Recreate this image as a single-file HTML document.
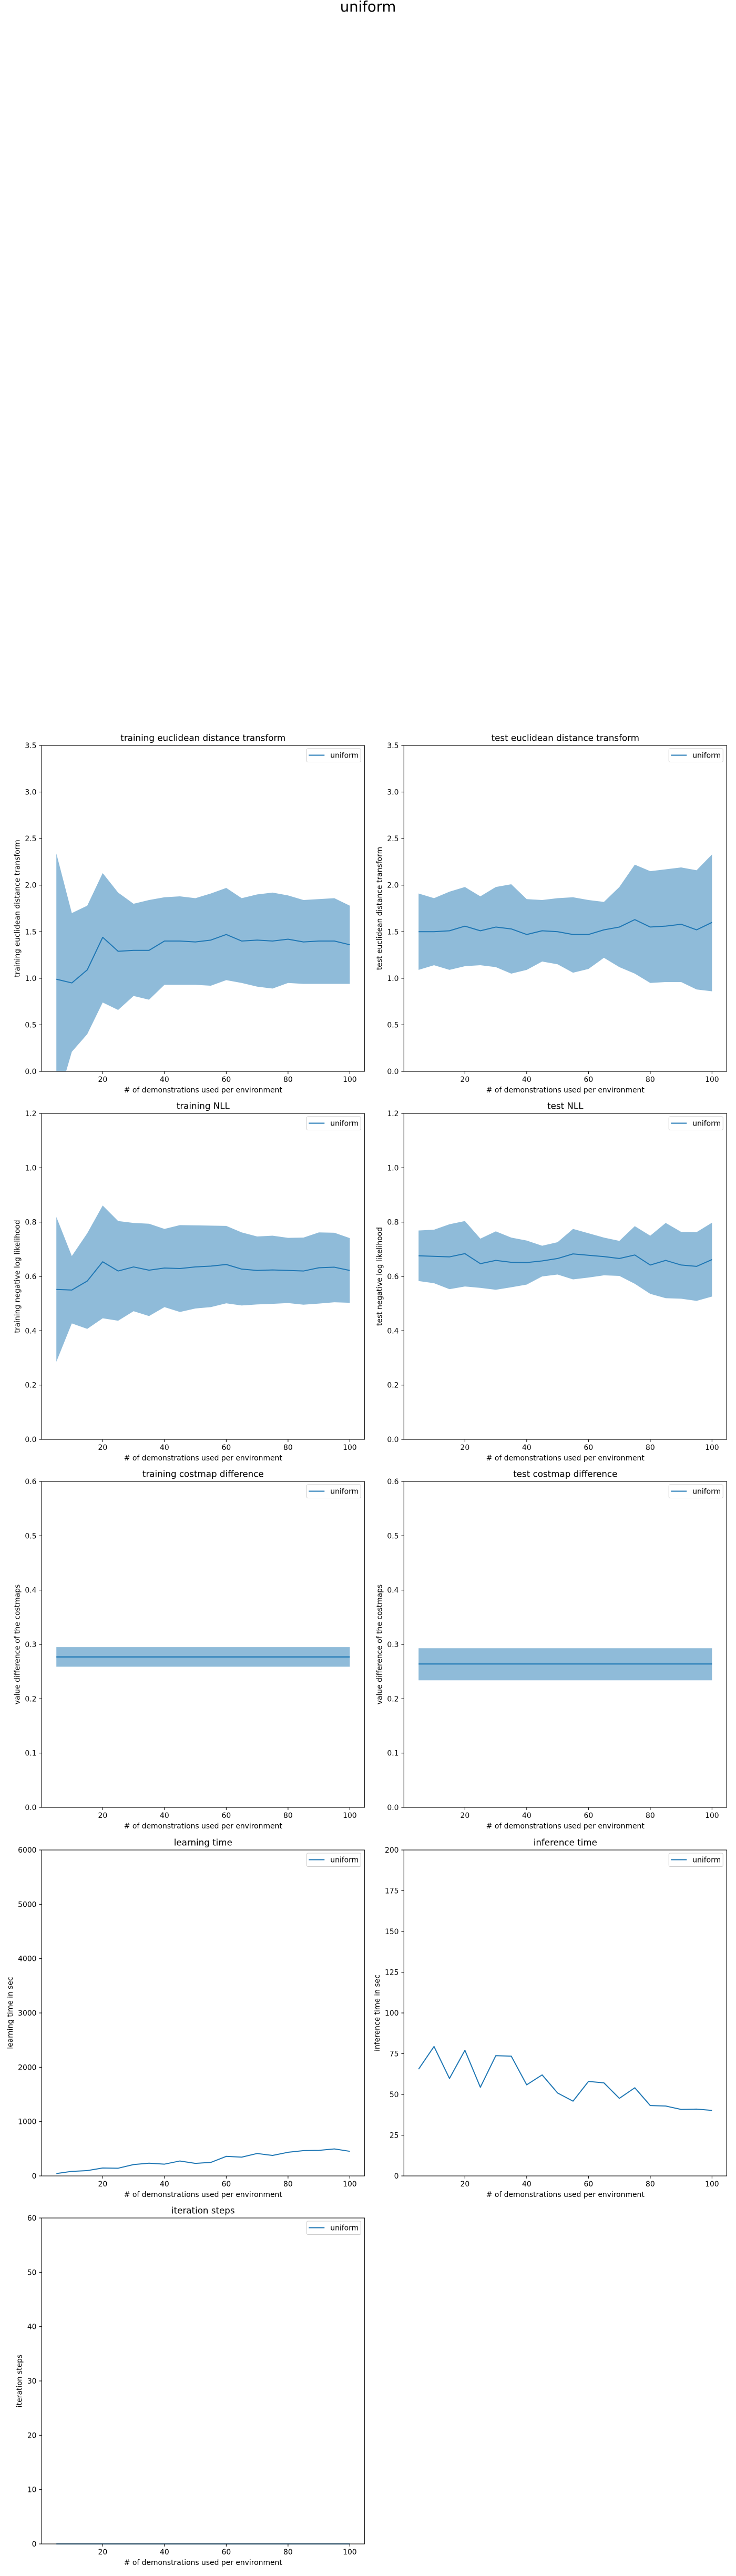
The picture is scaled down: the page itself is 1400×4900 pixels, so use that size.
<!DOCTYPE html>
<html><head><meta charset="utf-8"><title>uniform</title>
<style>
html,body{margin:0;padding:0;background:#fff;}
svg{display:block;font-family:"DejaVu Sans","Liberation Sans",sans-serif;}
</style></head>
<body>
<svg id="fig" xmlns="http://www.w3.org/2000/svg" width="1400" height="4900" viewBox="0 0 1400 4900">
<rect x="0" y="0" width="1400" height="4900" fill="#fff"/>
<text x="700" y="22" text-anchor="middle" font-size="27.5" fill="#000">uniform</text>
</svg>
<script>
const xs = [5,10,15,20,25,30,35,40,45,50,55,60,65,70,75,80,85,90,95,100];
const xTicks = [20,40,60,80,100];

const trainEdtMean = [0.99,0.95,1.09,1.44,1.29,1.30,1.30,1.40,1.40,1.39,1.41,1.47,1.40,1.41,1.40,1.42,1.39,1.40,1.40,1.36];
const trainEdtUpper = [2.34,1.70,1.78,2.13,1.92,1.80,1.84,1.87,1.88,1.86,1.91,1.97,1.86,1.90,1.92,1.89,1.84,1.85,1.86,1.78];
const trainEdtLower = [-0.36,0.21,0.40,0.74,0.66,0.81,0.77,0.93,0.93,0.93,0.92,0.98,0.95,0.91,0.89,0.95,0.94,0.94,0.94,0.94];

const testEdtMean = [1.50,1.50,1.51,1.56,1.51,1.55,1.53,1.47,1.51,1.50,1.47,1.47,1.52,1.55,1.63,1.55,1.56,1.58,1.52,1.60];
const testEdtUpper = [1.91,1.86,1.93,1.98,1.88,1.98,2.01,1.85,1.84,1.86,1.87,1.84,1.82,1.98,2.22,2.15,2.17,2.19,2.16,2.33];
const testEdtLower = [1.09,1.14,1.09,1.13,1.14,1.12,1.05,1.09,1.18,1.15,1.06,1.10,1.22,1.12,1.05,0.95,0.96,0.96,0.88,0.86];

const trainNllMean = [0.552,0.55,0.583,0.654,0.62,0.635,0.623,0.631,0.629,0.635,0.638,0.644,0.627,0.622,0.624,0.622,0.62,0.632,0.634,0.622];
const trainNllUpper = [0.819,0.675,0.759,0.861,0.804,0.797,0.794,0.775,0.789,0.788,0.787,0.786,0.762,0.747,0.75,0.742,0.743,0.762,0.761,0.741];
const trainNllLower = [0.286,0.427,0.407,0.446,0.437,0.472,0.454,0.487,0.469,0.482,0.487,0.501,0.493,0.497,0.499,0.502,0.496,0.5,0.505,0.503];

const testNllMean = [0.676,0.674,0.672,0.684,0.647,0.659,0.652,0.651,0.657,0.666,0.683,0.678,0.673,0.666,0.679,0.642,0.659,0.642,0.637,0.662];
const testNllUpper = [0.769,0.772,0.792,0.804,0.739,0.766,0.743,0.732,0.713,0.726,0.775,0.759,0.743,0.731,0.785,0.75,0.797,0.764,0.763,0.798];
const testNllLower = [0.583,0.575,0.553,0.563,0.558,0.551,0.56,0.57,0.6,0.607,0.589,0.596,0.604,0.602,0.573,0.536,0.52,0.518,0.51,0.526];

const trainCostMean = [0.277,0.277,0.277,0.277,0.277,0.277,0.277,0.277,0.277,0.277,0.277,0.277,0.277,0.277,0.277,0.277,0.277,0.277,0.277,0.277];
const trainCostUpper = [0.295,0.295,0.295,0.295,0.295,0.295,0.295,0.295,0.295,0.295,0.295,0.295,0.295,0.295,0.295,0.295,0.295,0.295,0.295,0.295];
const trainCostLower = [0.259,0.259,0.259,0.259,0.259,0.259,0.259,0.259,0.259,0.259,0.259,0.259,0.259,0.259,0.259,0.259,0.259,0.259,0.259,0.259];

const testCostMean = [0.264,0.264,0.264,0.264,0.264,0.264,0.264,0.264,0.264,0.264,0.264,0.264,0.264,0.264,0.264,0.264,0.264,0.264,0.264,0.264];
const testCostUpper = [0.293,0.293,0.293,0.293,0.293,0.293,0.293,0.293,0.293,0.293,0.293,0.293,0.293,0.293,0.293,0.293,0.293,0.293,0.293,0.293];
const testCostLower = [0.234,0.234,0.234,0.234,0.234,0.234,0.234,0.234,0.234,0.234,0.234,0.234,0.234,0.234,0.234,0.234,0.234,0.234,0.234,0.234];

const learningTime = [44,84,98,146,142,209,235,217,275,231,249,360,346,413,377,435,466,470,497,453];
const inferenceTime = [65.5,79.4,59.8,77.1,54.4,73.8,73.5,55.9,62,50.9,45.9,58,57.1,47.6,54.1,43.2,42.9,40.8,41,40.2];
const iterationSteps = [0,0,0,0,0,0,0,0,0,0,0,0,0,0,0,0,0,0,0,0];

const edtTicks = [0,0.5,1.0,1.5,2.0,2.5,3.0,3.5];
const nllTicks = [0,0.2,0.4,0.6,0.8,1.0,1.2];
const costTicks = [0,0.1,0.2,0.3,0.4,0.5,0.6];
const learnTicks = [0,1000,2000,3000,4000,5000,6000];
const inferTicks = [0,25,50,75,100,125,150,175,200];
const iterTicks = [0,10,20,30,40,50,60];

const NS = "http://www.w3.org/2000/svg";
const svg = document.getElementById('fig');
const AW = 614, AH = 620;
const XMIN = 0.25, XMAX = 104.75;

function mk(tag, attrs, parent) {
  const e = document.createElementNS(NS, tag);
  for (const k in attrs) e.setAttribute(k, attrs[k]);
  (parent || svg).appendChild(e);
  return e;
}
function fmt(v, dec) { return dec > 0 ? v.toFixed(dec) : String(Math.round(v)); }
function textWidth(s) {
  let w = 0;
  for (const c of s) w += (c === '.') ? 4.42 : 8.84;
  return w;
}

let clipId = 0;
function drawChart(o) {
  const L = o.left, T = o.top, B = T + AH, R = L + AW;
  const sx = v => L + (v - XMIN) / (XMAX - XMIN) * AW;
  const sy = v => B - (v - o.ymin) / (o.ymax - o.ymin) * AH;
  const g = mk('g', {});
  
  
  const cid = 'clip' + (clipId++);
  const cp = mk('clipPath', {id: cid}, g);
  mk('rect', {x: L, y: T, width: AW, height: AH}, cp);

  if (o.upper) {
    let d = '';
    xs.forEach((x, i) => { d += (i ? 'L' : 'M') + sx(x).toFixed(2) + ',' + sy(o.upper[i]).toFixed(2); });
    for (let i = xs.length - 1; i >= 0; i--) d += 'L' + sx(xs[i]).toFixed(2) + ',' + sy(o.lower[i]).toFixed(2);
    d += 'Z';
    const band = mk('path', {d: d, fill: '#1f77b4', 'fill-opacity': '0.5', stroke: 'none', 'clip-path': 'url(#' + cid + ')'}, g);
    
    
  }
  let ld = '';
  xs.forEach((x, i) => { ld += (i ? 'L' : 'M') + sx(x).toFixed(2) + ',' + sy(o.mean[i]).toFixed(2); });
  const line = mk('path', {d: ld, fill: 'none', stroke: '#1f77b4', 'stroke-width': o.lw || 2, 'stroke-linejoin': 'round'}, g);
  
  

  const frame = mk('rect', {x: L, y: T, width: AW, height: AH, fill: 'none', stroke: '#000', 'stroke-width': 1.1}, g);
  
  

  xTicks.forEach(v => {
    const x = sx(v);
    mk('line', {x1: x, x2: x, y1: B, y2: B + 4.9, stroke: '#000', 'stroke-width': 1.1}, g);
    const t = mk('text', {x: x, y: B + 20, 'text-anchor': 'middle', 'font-size': 13.9, fill: '#000'}, g);
    t.textContent = String(v);
    
    
  });
  let maxW = 0;
  o.ticks.forEach(v => {
    const y = sy(v);
    mk('line', {x1: L - 4.9, x2: L, y1: y, y2: y, stroke: '#000', 'stroke-width': 1.1}, g);
    const s = fmt(v, o.dec);
    maxW = Math.max(maxW, textWidth(s));
    const t = mk('text', {x: L - 9.8, y: y + 5, 'text-anchor': 'end', 'font-size': 13.9, fill: '#000'}, g);
    t.textContent = s;
    
    
  });
  const xl = mk('text', {x: L + AW / 2, y: B + 40, 'text-anchor': 'middle', 'font-size': 13.9, fill: '#000'}, g);
  xl.textContent = '# of demonstrations used per environment';
  
  
  const ylx = L - (9.8 + maxW + 5.6 + 8.5);
  const yl = mk('text', {x: ylx, y: T + AH / 2, 'text-anchor': 'middle', 'font-size': 13.9, fill: '#000', transform: 'rotate(-90 ' + ylx + ' ' + (T + AH / 2) + ')', 'dominant-baseline': 'central'}, g);
  yl.textContent = o.ylabel;
  
  
  const tt = mk('text', {x: L + AW / 2, y: T - 8.5, 'text-anchor': 'middle', 'font-size': 16.7, fill: '#000'}, g);
  tt.textContent = o.title;
  
  

  const lg = mk('g', {}, g);
  
  
  mk('rect', {x: R - 110, y: T + 6, width: 103, height: 25.5, rx: 2.5, fill: '#fff', 'fill-opacity': 0.8, stroke: '#ccc', 'stroke-width': 1}, lg);
  mk('line', {x1: R - 106, x2: R - 76, y1: T + 18.5, y2: T + 18.5, stroke: '#1f77b4', 'stroke-width': 2}, lg);
  const lt = mk('text', {x: R - 65, y: T + 23.5, 'font-size': 13.9, fill: '#000'}, lg);
  lt.textContent = 'uniform';
  
  
}

const LX = 79.3, RX = 768.3;
drawChart({name: 'training-edt-chart', left: LX, top: 1418, ymin: 0, ymax: 3.5, ticks: edtTicks, dec: 1, mean: trainEdtMean, upper: trainEdtUpper, lower: trainEdtLower, title: 'training euclidean distance transform', ylabel: 'training euclidean distance transform'});
drawChart({name: 'test-edt-chart', left: RX, top: 1418, ymin: 0, ymax: 3.5, ticks: edtTicks, dec: 1, mean: testEdtMean, upper: testEdtUpper, lower: testEdtLower, title: 'test euclidean distance transform', ylabel: 'test euclidean distance transform'});
drawChart({name: 'training-nll-chart', left: LX, top: 2118, ymin: 0, ymax: 1.2, ticks: nllTicks, dec: 1, mean: trainNllMean, upper: trainNllUpper, lower: trainNllLower, title: 'training NLL', ylabel: 'training negative log likelihood'});
drawChart({name: 'test-nll-chart', left: RX, top: 2118, ymin: 0, ymax: 1.2, ticks: nllTicks, dec: 1, mean: testNllMean, upper: testNllUpper, lower: testNllLower, title: 'test NLL', ylabel: 'test negative log likelihood'});
drawChart({name: 'training-costmap-chart', left: LX, top: 2818, ymin: 0, ymax: 0.6, ticks: costTicks, dec: 1, mean: trainCostMean, upper: trainCostUpper, lower: trainCostLower, title: 'training costmap difference', ylabel: 'value difference of the costmaps', lw: 2.2});
drawChart({name: 'test-costmap-chart', left: RX, top: 2818, ymin: 0, ymax: 0.6, ticks: costTicks, dec: 1, mean: testCostMean, upper: testCostUpper, lower: testCostLower, title: 'test costmap difference', ylabel: 'value difference of the costmaps', lw: 2.2});
drawChart({name: 'learning-time-chart', left: LX, top: 3519, ymin: 0, ymax: 6000, ticks: learnTicks, dec: 0, mean: learningTime, title: 'learning time', ylabel: 'learning time in sec'});
drawChart({name: 'inference-time-chart', left: RX, top: 3519, ymin: 0, ymax: 200, ticks: inferTicks, dec: 0, mean: inferenceTime, title: 'inference time', ylabel: 'inference time in sec'});
drawChart({name: 'iteration-steps-chart', left: LX, top: 4219, ymin: 0, ymax: 60, ticks: iterTicks, dec: 0, mean: iterationSteps, title: 'iteration steps', ylabel: 'iteration steps'});
</script>
</body></html>
